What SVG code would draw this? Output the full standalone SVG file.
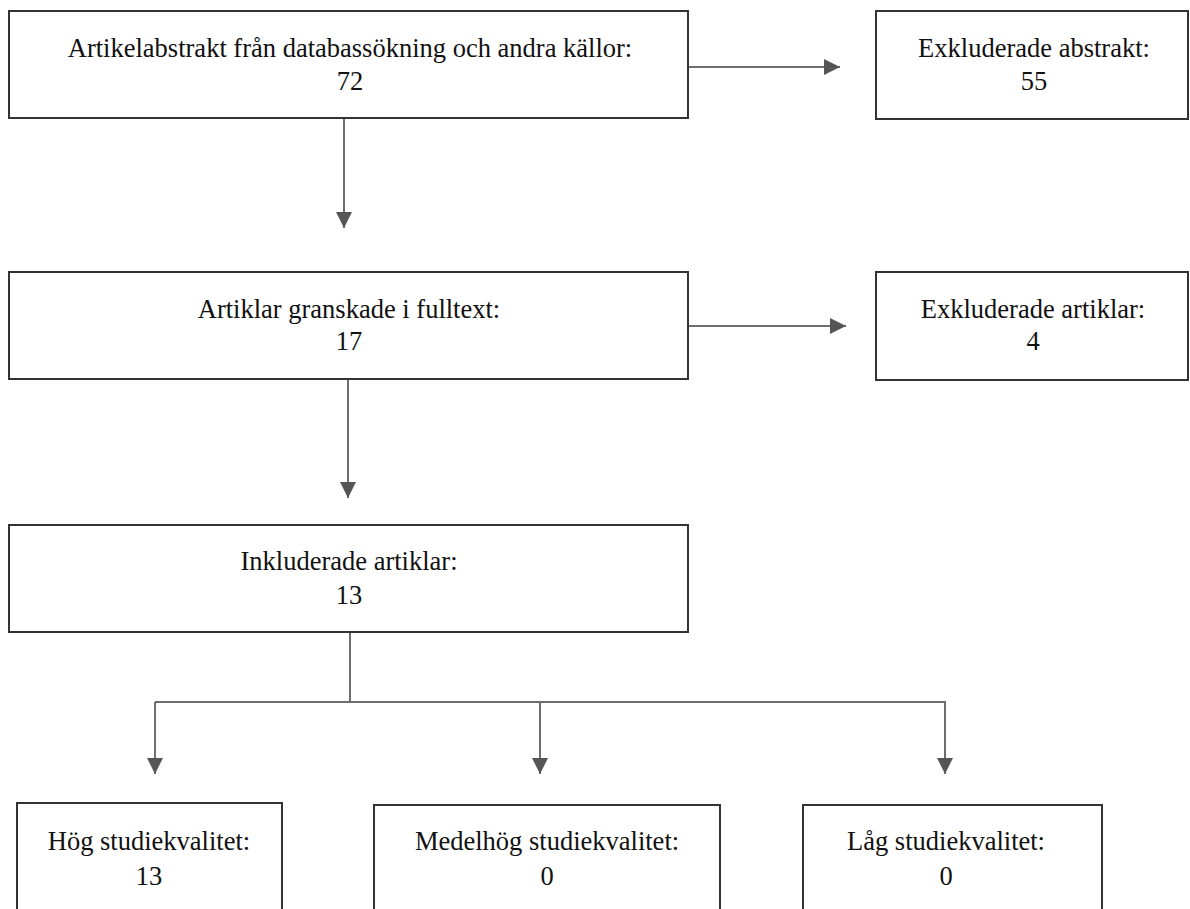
<svg xmlns="http://www.w3.org/2000/svg" width="1190" height="909" viewBox="0 0 1190 909">
<defs>
<style>
.box{fill:#fff;stroke:#333;stroke-width:2}
.t{font-family:"Liberation Serif","Times New Roman",serif;font-size:26.5px;fill:#111;text-anchor:middle}
.c{fill:none;stroke:#6e6e6e;stroke-width:2}
</style>
<marker id="ah" viewBox="0 0 10 10" refX="10" refY="5" markerWidth="8" markerHeight="8" markerUnits="strokeWidth" orient="auto">
<path d="M0,0 L10,5 L0,10 z" fill="#555"/>
</marker>
</defs>
<rect width="1190" height="909" fill="#fff"/>
<g id="connectors">
<line class="c" x1="689" y1="67" x2="840" y2="67" marker-end="url(#ah)"/>
<line class="c" x1="344" y1="118" x2="344" y2="228" marker-end="url(#ah)"/>
<line class="c" x1="689" y1="326" x2="846" y2="326" marker-end="url(#ah)"/>
<line class="c" x1="348" y1="379" x2="348" y2="498" marker-end="url(#ah)"/>
<polyline class="c" points="350,632 350,702"/>
<polyline class="c" points="155,702 945,702 945,774" marker-end="url(#ah)"/>
<line class="c" x1="155" y1="702" x2="155" y2="774" marker-end="url(#ah)"/>
<line class="c" x1="540" y1="702" x2="540" y2="774" marker-end="url(#ah)"/>
</g>
<g id="n1"><rect class="box" x="9" y="11" width="679" height="107"/><text class="t" x="350" y="57">Artikelabstrakt från databassökning och andra källor:</text><text class="t" x="350" y="90">72</text></g>
<g id="n2"><rect class="box" x="876" y="11" width="312" height="108"/><text class="t" x="1034" y="57">Exkluderade abstrakt:</text><text class="t" x="1034" y="90">55</text></g>
<g id="n3"><rect class="box" x="9" y="272" width="679" height="107"/><text class="t" x="349" y="318">Artiklar granskade i fulltext:</text><text class="t" x="349" y="350">17</text></g>
<g id="n4"><rect class="box" x="876" y="272" width="312" height="108"/><text class="t" x="1033" y="318">Exkluderade artiklar:</text><text class="t" x="1033" y="350">4</text></g>
<g id="n5"><rect class="box" x="9" y="525" width="679" height="107"/><text class="t" x="349" y="570">Inkluderade artiklar:</text><text class="t" x="349" y="604">13</text></g>
<g id="n6"><rect class="box" x="17" y="803" width="265" height="120"/><text class="t" x="149" y="850">Hög studiekvalitet:</text><text class="t" x="149" y="885">13</text></g>
<g id="n7"><rect class="box" x="374" y="805" width="346" height="120"/><text class="t" x="547" y="850">Medelhög studiekvalitet:</text><text class="t" x="547" y="885">0</text></g>
<g id="n8"><rect class="box" x="803" y="805" width="299" height="120"/><text class="t" x="946" y="850">Låg studiekvalitet:</text><text class="t" x="946" y="885">0</text></g>
</svg>
